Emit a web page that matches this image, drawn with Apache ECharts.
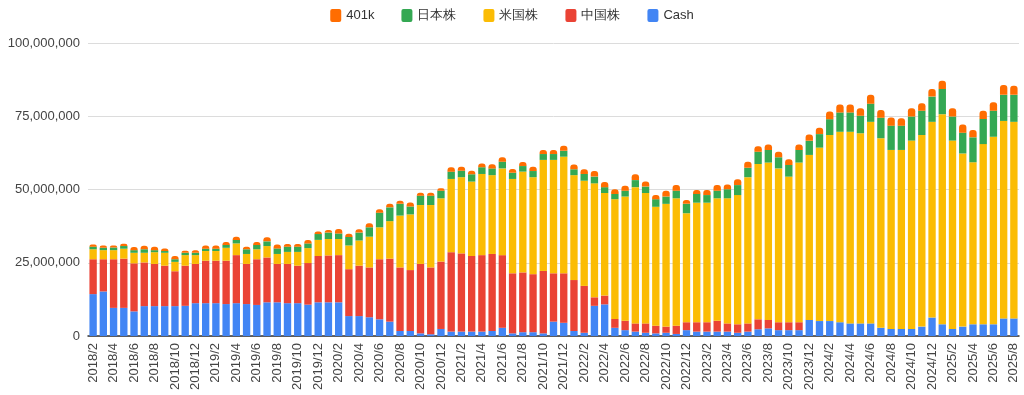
<!DOCTYPE html>
<html>
<head>
<meta charset="utf-8">
<script src="https://cdn.jsdelivr.net/npm/echarts@6/dist/echarts.min.js"></script>
<style>
html,body{margin:0;padding:0;background:#fff;}
#chart{width:1024px;height:395px;}
</style>
</head>
<body>
<div id="chart"></div>
<script>
const categories = [
'2018/2','2018/3','2018/4','2018/5','2018/6','2018/7','2018/8','2018/9','2018/10','2018/11','2018/12',
'2019/1','2019/2','2019/3','2019/4','2019/5','2019/6','2019/7','2019/8','2019/9','2019/10','2019/11','2019/12',
'2020/1','2020/2','2020/3','2020/4','2020/5','2020/6','2020/7','2020/8','2020/9','2020/10','2020/11','2020/12',
'2021/1','2021/2','2021/3','2021/4','2021/5','2021/6','2021/7','2021/8','2021/9','2021/10','2021/11','2021/12',
'2022/1','2022/2','2022/3','2022/4','2022/5','2022/6','2022/7','2022/8','2022/9','2022/10','2022/11','2022/12',
'2023/1','2023/2','2023/3','2023/4','2023/5','2023/6','2023/7','2023/8','2023/9','2023/10','2023/11','2023/12',
'2024/1','2024/2','2024/3','2024/4','2024/5','2024/6','2024/7','2024/8','2024/9','2024/10','2024/11','2024/12',
'2025/1','2025/2','2025/3','2025/4','2025/5','2025/6','2025/7','2025/8'
];

// values in millions of yen
const UNIT = 1000000;
const cash = [
14.3,15.2,9.6,9.6,8.4,10.2,10.2,10.2,10.2,10.3,11.2,
11.2,11.2,10.9,11.2,10.9,10.6,11.5,11.5,11.2,11.2,10.7,11.5,
11.5,11.5,6.8,6.8,6.4,5.7,4.9,1.7,1.7,0.9,0.6,2.4,
1.5,1.5,1.5,1.5,1.7,2.8,0.9,1.3,1.3,0.9,4.9,4.5,
1.7,1.1,10.3,10.8,2.8,2.0,1.5,1.1,0.9,1.1,0.7,2.0,
1.5,1.5,1.5,1.5,1.1,1.5,2.3,2.6,2.0,2.0,2.0,5.5,
5.1,5.1,4.7,4.3,4.3,4.3,2.8,2.4,2.4,2.4,3.2,6.3,
4.0,2.4,3.2,4.0,4.0,4.0,6.0,6.0
];
const chinaStocks = [
11.9,11.0,16.6,16.8,16.4,14.9,14.4,13.8,11.9,13.7,13.4,
14.5,14.5,14.8,16.4,13.7,15.6,15.3,13.1,13.4,12.8,14.2,15.8,
16.0,16.1,16.0,17.2,17.0,20.5,21.5,21.7,20.8,23.7,22.8,23.0,
27.1,26.7,25.8,26.1,26.3,24.8,20.5,20.4,19.8,21.3,16.5,16.9,
17.4,16.0,2.9,3.0,3.0,3.2,2.8,3.2,2.6,2.1,2.8,2.7,
3.2,3.2,3.7,2.8,2.9,2.8,3.4,2.9,2.7,2.7,2.7,0,
0,0,0,0,0,0,0,0,0,0,0,0,
0,0,0,0,0,0,0,0
];
const usStocks = [
3.4,3.1,3.1,3.4,3.6,3.3,4.0,4.4,3.2,3.6,3.0,
3.3,3.3,4.4,4.0,3.4,3.4,3.9,3.4,4.1,4.7,5.1,5.5,
5.6,5.5,8.1,8.6,10.5,10.9,12.8,17.7,19.0,20.1,21.3,21.6,
25.0,26.0,25.4,27.7,26.9,29.6,32.2,34.4,33.1,37.9,38.7,39.8,
35.8,35.9,38.9,35.0,40.9,42.4,46.5,44.5,40.6,41.9,43.5,37.2,
40.8,40.8,41.8,42.7,44.1,49.9,53.0,53.7,52.5,49.7,54.5,56.3,
59.2,63.5,65.0,65.4,64.9,68.8,64.7,61.1,61.1,64.3,65.4,66.8,
71.7,64.3,59.1,55.3,61.5,64.0,67.4,67.1
];
const japanStocks = [
0.9,0.8,0.9,0.9,0.9,1.2,0.7,0.6,0.9,0.8,0.8,
0.8,0.8,1.0,1.2,1.6,1.5,1.6,1.9,1.8,1.8,1.6,2.0,
2.2,1.9,2.9,2.7,3.2,5.0,4.7,4.0,2.7,3.2,3.2,2.6,
2.5,2.2,2.5,2.3,2.3,2.3,2.1,1.9,2.1,2.0,2.0,2.0,
2.0,2.3,2.3,2.0,1.8,2.0,2.4,2.2,2.6,2.5,2.6,3.2,
3.0,2.6,2.6,3.1,3.4,3.2,4.2,4.3,3.8,4.0,4.3,4.8,
4.6,5.4,6.6,6.6,6.0,6.2,7.0,8.3,8.3,8.2,8.3,8.6,
8.6,8.2,7.1,8.5,8.6,8.9,8.9,9.2
];
const k401 = [
0.7,0.8,0.7,0.8,1.1,1.2,1.2,0.9,1.1,0.7,0.9,
1.1,1.1,1.0,1.1,0.9,1.0,1.4,1.3,0.9,0.9,1.2,0.9,
0.9,1.5,1.1,1.1,1.4,1.2,1.2,1.1,1.4,1.0,1.0,0.8,
1.5,1.4,1.2,1.3,1.4,1.5,1.3,1.4,1.5,1.4,1.4,1.7,
1.6,1.6,1.9,1.8,1.6,1.7,2.0,1.7,1.4,2.0,1.9,1.3,
1.3,1.7,1.9,1.6,2.0,2.1,1.9,1.9,1.9,1.9,1.9,2.2,
2.2,2.6,2.7,2.7,2.5,3.0,2.6,2.8,2.5,2.8,2.5,2.6,
2.8,2.8,2.8,2.5,2.8,2.9,3.4,3.1
];
const yTicks = [0, 25000000, 50000000, 75000000, 100000000];

const seriesNames = ['Cash','中国株','米国株','日本株','401k'];
const seriesColors = ['#4285f4','#ea4335','#fbbc04','#34a853','#ff6d01'];
const seriesValues = [cash, chinaStocks, usStocks, japanStocks, k401];

const chart = echarts.init(document.getElementById('chart'), null, {renderer:'canvas'});
const FONT = "'Liberation Sans', Arial, sans-serif";
const LEGEND_ICON = 'path://M2,0 H9 A2,2 0 0 1 11,2 V11 A2,2 0 0 1 9,13 H2 A2,2 0 0 1 0,11 V2 A2,2 0 0 1 2,0 Z';

const series = seriesNames.map((name, idx) => ({
  name: name,
  type: 'bar',
  stack: 'total',
  barCategoryGap: '28%',
  itemStyle: {
    color: seriesColors[idx],
    borderRadius: idx === seriesNames.length - 1 ? [3,3,0,0] : 0
  },
  data: seriesValues[idx].map(v => Math.round(v * UNIT))
}));

chart.setOption({
  animation: false,
  textStyle: {fontFamily: FONT},
  legend: {
    data: ['401k','日本株','米国株','中国株','Cash'],
    top: 4,
    left: 'center',
    icon: LEGEND_ICON,
    itemWidth: 11,
    itemHeight: 13,
    itemGap: 27,
    textStyle: {fontSize: 13, color: '#333', fontFamily: FONT}
  },
  grid: {left: 88, right: 5, top: 43, bottom: 59, containLabel: false},
  xAxis: {
    type: 'category',
    data: categories,
    axisTick: {show: false},
    axisLine: {lineStyle: {color: '#333', width: 1.5}},
    axisLabel: {
      interval: 1,
      rotate: 90,
      fontSize: 13,
      color: '#444',
      margin: 7,
      fontFamily: FONT
    }
  },
  yAxis: {
    type: 'value',
    min: yTicks[0],
    max: yTicks[yTicks.length - 1],
    interval: yTicks[1] - yTicks[0],
    axisLine: {show: false},
    axisTick: {show: false},
    splitLine: {lineStyle: {color: '#dcdcdc', width: 1}},
    axisLabel: {
      fontSize: 13,
      color: '#444',
      margin: 8,
      fontFamily: FONT,
      formatter: v => v.toLocaleString('en-US')
    }
  },
  series: series
});
</script>
</body>
</html>
